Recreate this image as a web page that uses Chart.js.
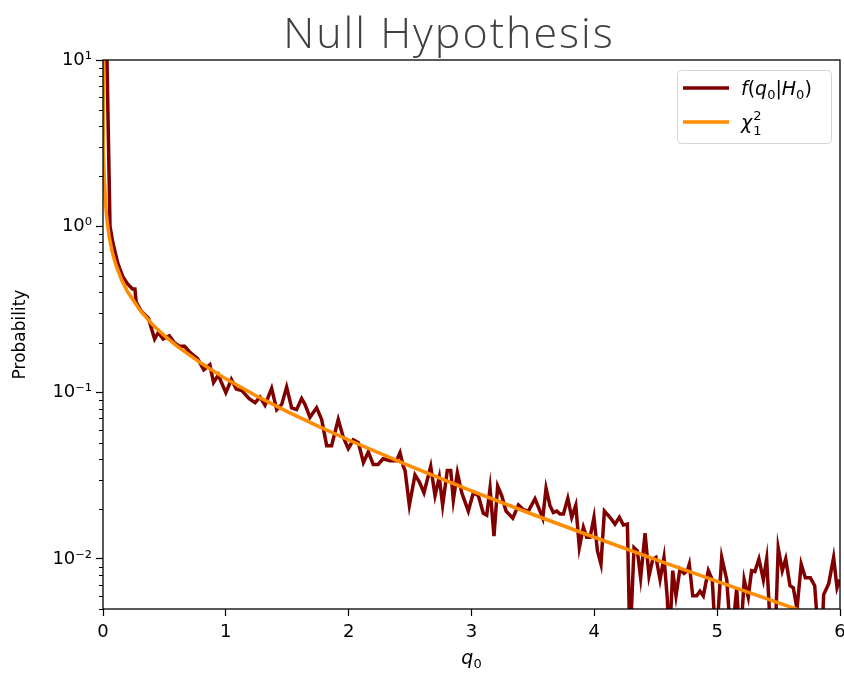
<!DOCTYPE html>
<html>
<head>
<meta charset="utf-8">
<script src="https://cdn.jsdelivr.net/npm/chart.js@4.4.0/dist/chart.umd.min.js"></script>
<style>
  html, body { margin: 0; padding: 0; background: #fff; }
</style>
</head>
<body>
<canvas id="nullChart" width="844" height="673"></canvas>
<script>
// values
const chartTitle = 'Null Hypothesis';
const xTickLabels = ['0', '1', '2', '3', '4', '5', '6'];
const yTickValues = [0.01, 0.1, 1, 10];
const yTickLabels = ['10\u207B\u00B2', '10\u207B\u00B9', '10\u2070', '10\u00B9'];
const seriesNames = ['f(q\u2080|H\u2080)', '\u03C7\u00B2\u2081'];

// f(q0|H0): noisy histogram of the test statistic
const histX = [
  0.025, 0.057, 0.08, 0.12, 0.16, 0.20, 0.24, 0.26, 0.27, 0.31, 0.37, 0.42, 0.45, 0.49, 0.54, 0.58,
  0.62, 0.665, 0.71, 0.77, 0.82, 0.87, 0.90, 0.94, 0.96, 1.0, 1.045, 1.085, 1.13, 1.19,
  1.238, 1.278, 1.319, 1.373, 1.414, 1.455, 1.495, 1.536, 1.576, 1.617, 1.644, 1.685, 1.739, 1.780,
  1.821, 1.861, 1.915, 1.956, 1.997, 2.038, 2.079, 2.12, 2.16, 2.20, 2.24, 2.28, 2.337, 2.39,
  2.418, 2.445, 2.459, 2.494, 2.540, 2.576, 2.613, 2.668, 2.703, 2.738, 2.765, 2.803, 2.831, 2.852,
  2.885, 2.921, 2.974, 3.015, 3.056, 3.096, 3.124, 3.151, 3.183, 3.213, 3.246, 3.281, 3.336, 3.382,
  3.422, 3.463, 3.517, 3.558, 3.580, 3.607, 3.639,
  3.666, 3.694, 3.721, 3.748, 3.784, 3.816, 3.849, 3.878, 3.911, 3.938, 3.965, 3.997, 4.025, 4.054,
  4.082, 4.127, 4.168, 4.204, 4.236, 4.269, 4.29, 4.323, 4.35, 4.377, 4.413, 4.445, 4.475, 4.502,
  4.535, 4.567, 4.594, 4.61, 4.638, 4.665, 4.697, 4.730, 4.757, 4.773, 4.801, 4.833, 4.860,
  4.887, 4.928, 4.96, 4.99, 5.037, 5.078, 5.115, 5.159, 5.187, 5.22, 5.253, 5.28, 5.307, 5.34,
  5.376, 5.403, 5.44, 5.47, 5.497, 5.53, 5.558, 5.593, 5.62, 5.65, 5.684, 5.718, 5.759, 5.794,
  5.83, 5.85, 5.867, 5.908, 5.948, 5.976, 6.0
];
const histY = [
  20, 1.0, 0.80, 0.60, 0.50, 0.45, 0.42, 0.42, 0.35, 0.31, 0.28, 0.21, 0.23, 0.21, 0.22, 0.20,
  0.19, 0.19, 0.174, 0.16, 0.137, 0.147, 0.115, 0.128, 0.117, 0.10, 0.12, 0.105, 0.103, 0.092,
  0.087, 0.094, 0.084, 0.106, 0.079, 0.085, 0.108, 0.081, 0.079, 0.092, 0.085, 0.071, 0.081, 0.069,
  0.048, 0.048, 0.069, 0.054, 0.046, 0.052, 0.050, 0.038, 0.044, 0.037, 0.037, 0.040, 0.039, 0.039,
  0.0435, 0.036, 0.034, 0.021, 0.032, 0.029, 0.025, 0.036, 0.024, 0.031, 0.021, 0.034, 0.034, 0.0226,
  0.033, 0.025, 0.0194, 0.025, 0.024, 0.0188, 0.0183, 0.0266, 0.0137, 0.0274, 0.024, 0.0194, 0.0176, 0.0211,
  0.0198, 0.0194, 0.023, 0.0194, 0.0176, 0.0266, 0.0209,
  0.019, 0.0194, 0.0186, 0.0186, 0.0231, 0.0178, 0.021, 0.0117, 0.0155, 0.0135, 0.0135, 0.0178, 0.0112, 0.0093,
  0.0194, 0.0178, 0.0162, 0.0178, 0.016, 0.0162, 0.003, 0.0117, 0.0112, 0.0077, 0.0143, 0.0079, 0.0099, 0.0102,
  0.0075, 0.0102, 0.0058, 0.003, 0.0085, 0.006, 0.0087, 0.0082, 0.0085, 0.0093, 0.006, 0.006, 0.0064,
  0.006, 0.0085, 0.0075, 0.003, 0.0102, 0.0075, 0.003, 0.0067, 0.003, 0.0075, 0.0059, 0.0085, 0.0084, 0.0100,
  0.0075, 0.0100, 0.003, 0.003, 0.0116, 0.0085, 0.0100, 0.0069, 0.0067, 0.005, 0.0093, 0.0077, 0.0077, 0.0069,
  0.003, 0.003, 0.0061, 0.0071, 0.0102, 0.0067, 0.0075
];

// chi-squared (1 dof) reference curve
const chiX = [
  0.0003, 0.0005, 0.001, 0.002, 0.005, 0.01, 0.02, 0.03, 0.05, 0.075, 0.1, 0.15, 0.2, 0.3, 0.4, 0.5,
  0.6, 0.8, 1.0, 1.25, 1.5, 1.75, 2.0, 2.5, 3.0, 3.5, 4.0, 4.5, 5.0, 5.5, 5.7, 6.0
];
const chiY = [
  11.5, 8.92, 6.30, 4.46, 2.81, 1.99, 1.40, 1.13, 0.870, 0.702, 0.600, 0.478, 0.404, 0.314, 0.258, 0.220,
  0.191, 0.150, 0.121, 0.0955, 0.0769, 0.0629, 0.0519, 0.0361, 0.0257, 0.0185, 0.0135, 0.00991, 0.00732, 0.00544, 0.00483, 0.00405
];

const histColor = '#800000';
const chiColor = '#ff8c00';
const tickFont = { family: 'DejaVu Sans', size: 18 };

// draws math-like text: runs of [text, italic, size, dy]
function drawRuns(ctx, runs, x, y, align) {
  const fontOf = r => (r[1] ? 'italic ' : '') + r[2] + 'px "DejaVu Sans"';
  let total = 0;
  runs.forEach(r => { ctx.font = fontOf(r); total += ctx.measureText(r[0]).width; });
  let cx = align === 'center' ? x - total / 2 : x;
  ctx.textAlign = 'left';
  runs.forEach(r => {
    ctx.font = fontOf(r);
    ctx.fillText(r[0], cx, y + r[3]);
    cx += ctx.measureText(r[0]).width;
  });
}

// frame, minor ticks, legend, axis label and title are drawn on top of the chart
const extras = {
  id: 'extras',
  afterDraw(chart) {
    const ctx = chart.ctx;
    const area = chart.chartArea;
    const yScale = chart.scales.y;
    ctx.save();

    // minor log ticks
    ctx.strokeStyle = '#000';
    ctx.lineWidth = 1;
    for (let k = -3; k <= 0; k++) {
      for (let m = 2; m <= 9; m++) {
        const v = m * Math.pow(10, k);
        if (v < yScale.min || v > yScale.max) continue;
        const py = Math.round(yScale.getPixelForValue(v)) + 0.5;
        ctx.beginPath();
        ctx.moveTo(area.left - 4, py);
        ctx.lineTo(area.left, py);
        ctx.stroke();
      }
    }

    // frame
    ctx.lineWidth = 1.3;
    ctx.strokeRect(area.left, area.top, area.right - area.left, area.bottom - area.top);

    // legend
    const lx = 677, ly = 70, lw = 154, lh = 73;
    ctx.beginPath();
    ctx.roundRect(lx + 0.5, ly + 0.5, lw, lh, 4);
    ctx.fillStyle = 'rgba(255,255,255,0.85)';
    ctx.fill();
    ctx.strokeStyle = '#d4d4d4';
    ctx.lineWidth = 1;
    ctx.stroke();

    ctx.lineWidth = 3.5;
    ctx.strokeStyle = histColor;
    ctx.beginPath(); ctx.moveTo(683, 88); ctx.lineTo(729, 88); ctx.stroke();
    ctx.strokeStyle = chiColor;
    ctx.beginPath(); ctx.moveTo(683, 122); ctx.lineTo(729, 122); ctx.stroke();

    ctx.fillStyle = '#000';
    ctx.textBaseline = 'alphabetic';
    // f(q0|H0)
    drawRuns(ctx, [
      ['f', true, 19, 0], ['(', false, 19, 0], ['q', true, 19, 0], ['0', false, 13, 4],
      ['|', false, 19, 0], ['H', true, 19, 0], ['0', false, 13, 4], [')', false, 19, 0]
    ], 741, 95, 'left');
    // chi^2_1
    ctx.font = 'italic 19px "DejaVu Sans"';
    ctx.textAlign = 'left';
    ctx.fillText('\u03C7', 741, 129);
    const chiW = ctx.measureText('\u03C7').width;
    ctx.font = '13px "DejaVu Sans"';
    ctx.fillText('2', 742 + chiW, 120);
    ctx.fillText('1', 742 + chiW, 135);

    // x axis label
    drawRuns(ctx, [['q', true, 19, 0], ['0', false, 13, 4]], (area.left + area.right) / 2, 664, 'center');

    // title
    ctx.fillStyle = '#404040';
    ctx.textAlign = 'center';
    ctx.font = '300 43px "Open Sans"';
    ctx.letterSpacing = '2px';
    ctx.fillText(chartTitle, 449, 48);

    ctx.restore();
  }
};

const ctx = document.getElementById('nullChart').getContext('2d');

new Chart(ctx, {
  type: 'line',
  data: {
    datasets: [
      {
        label: seriesNames[0],
        data: histX.map((x, i) => ({ x: x, y: histY[i] })),
        borderColor: histColor,
        borderWidth: 3.5,
        pointRadius: 0,
        fill: false,
        tension: 0,
        clip: 0,
        order: 2
      },
      {
        label: seriesNames[1],
        data: chiX.map((x, i) => ({ x: x, y: chiY[i] })),
        borderColor: chiColor,
        borderWidth: 3.5,
        pointRadius: 0,
        fill: false,
        tension: 0,
        clip: 0,
        order: 1
      }
    ]
  },
  options: {
    responsive: false,
    animation: false,
    layout: { padding: { top: 60, right: 4, left: 0, bottom: 0 } },
    plugins: {
      legend: { display: false },
      title: { display: false },
      tooltip: { enabled: false }
    },
    scales: {
      x: {
        type: 'linear',
        min: 0,
        max: 6,
        ticks: {
          stepSize: 1,
          color: '#000',
          font: tickFont,
          padding: 6,
          callback: (value) => xTickLabels[value] !== undefined ? xTickLabels[value] : ''
        },
        grid: { drawOnChartArea: false, drawTicks: true, tickLength: 7, tickColor: '#000', tickWidth: 1.2 },
        border: { display: false },
        title: { display: false },
        afterFit(scale) {
          scale.height = 64;
          scale.paddingLeft = 0;
          scale.paddingRight = 0;
        }
      },
      y: {
        type: 'logarithmic',
        min: 0.005,
        max: 10,
        afterBuildTicks(scale) {
          scale.ticks = yTickValues.map(v => ({ value: v, major: true }));
        },
        ticks: {
          color: '#000',
          font: tickFont,
          padding: 4,
          callback: (value, index) => yTickLabels[index]
        },
        grid: { drawOnChartArea: false, drawTicks: true, tickLength: 7, tickColor: '#000', tickWidth: 1.2 },
        border: { display: false },
        title: {
          display: true,
          text: 'Probability',
          color: '#000',
          font: { family: 'DejaVu Sans', size: 17 },
          padding: { top: 10, bottom: 0 }
        },
        afterFit(scale) {
          scale.width = 103;
          scale.paddingTop = 0;
          scale.paddingBottom = 0;
        }
      }
    }
  },
  plugins: [extras]
});
</script>
</body>
</html>
